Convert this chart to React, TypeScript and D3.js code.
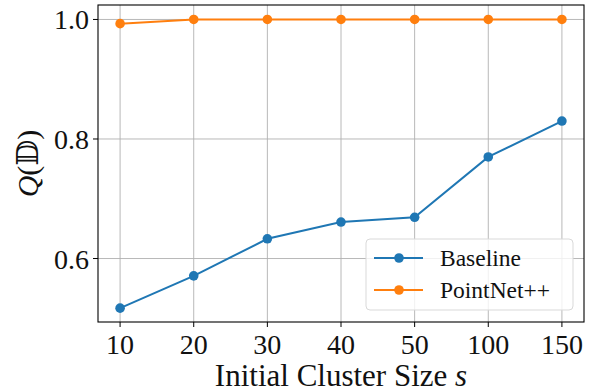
import React from "react";
import * as d3 from "d3";

const sizes = ["10", "20", "30", "40", "50", "100", "150"];
const baseline = [0.517, 0.571, 0.633, 0.661, 0.669, 0.77, 0.83];
const pointnet = [0.993, 1.0, 1.0, 1.0, 1.0, 1.0, 1.0];
const yTicks = [0.6, 0.8, 1.0];

const series = [
  { name: "Baseline", values: baseline, color: "#1f77b4" },
  { name: "PointNet++", values: pointnet, color: "#ff7f0e" },
];

const W = 591;
const H = 392;
const margin = { left: 98, right: 7, top: 5, bottom: 70 };
const FONT = "'Liberation Serif', 'DejaVu Serif', serif";

export default function App() {
  const x = d3
    .scalePoint<string>()
    .domain(sizes)
    .range([margin.left, W - margin.right])
    .padding(0.3);

  const y = d3
    .scaleLinear()
    .domain([0.4938, 1.0242])
    .range([H - margin.bottom, margin.top]);

  const line = d3
    .line<number>()
    .x((_, i) => x(sizes[i]) as number)
    .y((d) => y(d));

  const bottom = H - margin.bottom;
  const right = W - margin.right;

  return (
    <svg width={W} height={H} style={{ position: "absolute", left: 0, top: 0 }}>
      <rect width={W} height={H} fill="#fff" />
      {/* grid */}
      <g stroke="#b0b0b0" strokeWidth={0.9}>
        {sizes.map((s) => (
          <line key={s} x1={x(s)} x2={x(s)} y1={margin.top} y2={bottom} />
        ))}
        {yTicks.map((t) => (
          <line key={t} x1={margin.left} x2={right} y1={y(t)} y2={y(t)} />
        ))}
      </g>

      {/* lines and markers */}
      {series.map((s) => (
        <g key={s.name}>
          <path d={line(s.values) || ""} fill="none" stroke={s.color} strokeWidth={2} />
          {s.values.map((v, i) => (
            <circle key={i} cx={x(sizes[i])} cy={y(v)} r={4.8} fill={s.color} />
          ))}
        </g>
      ))}

      {/* frame */}
      <rect
        x={margin.left}
        y={margin.top}
        width={right - margin.left}
        height={bottom - margin.top}
        fill="none"
        stroke="#000"
        strokeWidth={1.1}
      />

      {/* axes text */}
      <g fontFamily={FONT} fontSize={28} fill="#111">
        {sizes.map((s) => (
          <g key={s}>
            <line x1={x(s)} x2={x(s)} y1={bottom} y2={bottom + 5} stroke="#000" />
            <text x={x(s)} y={bottom + 32} textAnchor="middle">
              {s}
            </text>
          </g>
        ))}
        {yTicks.map((t) => (
          <g key={t}>
            <line x1={margin.left - 5} x2={margin.left} y1={y(t)} y2={y(t)} stroke="#000" />
            <text x={margin.left - 9} y={y(t) + 10} textAnchor="end">
              {d3.format(".1f")(t)}
            </text>
          </g>
        ))}
        <text x={(margin.left + right) / 2} y={H - 6} textAnchor="middle" fontSize={31}>
          Initial Cluster Size <tspan fontStyle="italic">s</tspan>
        </text>
        <text transform={`translate(38,${(margin.top + bottom) / 2}) rotate(-90)`} textAnchor="middle" fontSize={30}>
          <tspan fontStyle="italic">Q</tspan>(𝔻)
        </text>
      </g>

      {/* legend */}
      <g fontFamily={FONT} fontSize={23.5} fill="#111">
        <rect x={366} y={239} width={207} height={71} rx={4} fill="#fff" fillOpacity={0.8} stroke="#d9d9d9" />
        {series.map((s, i) => (
          <g key={s.name} transform={`translate(0,${258 + i * 32})`}>
            <line x1={374} x2={423} stroke={s.color} strokeWidth={2} />
            <circle cx={399} r={4.8} fill={s.color} />
            <text x={440} y={8}>
              {s.name}
            </text>
          </g>
        ))}
      </g>
    </svg>
  );
}
